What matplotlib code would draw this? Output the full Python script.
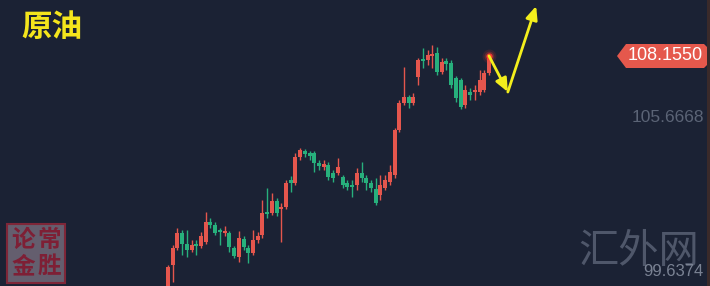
import matplotlib
matplotlib.use("Agg")
import matplotlib.pyplot as plt
from matplotlib.patches import Polygon, Rectangle

# ======================= DADOS =======================

TITLE = "原油"
WATERMARK = "汇外网"
LAST_PRICE = 108.1550
AXIS_LABELS = [105.6668, 99.6374]

opens = [98.79, 99.79, 100.47, 101.07, 100.63, 100.39, 100.63, 100.55, 100.71, 101.51,
         101.39, 101.19, 101.07, 101.07, 100.47, 100.11, 100.83, 100.47, 100.27, 100.79,
         100.99, 101.91, 101.87, 102.35, 102.03, 102.11, 103.19, 103.07, 104.11, 104.35,
         104.27, 104.27, 103.87, 103.71, 103.79, 103.47, 103.47, 103.31, 103.07, 102.99,
         102.99, 103.47, 103.27, 103.07, 102.83, 102.59, 102.87, 103.11, 103.39, 105.19,
         106.27, 106.51, 106.27, 107.31, 108.03, 107.99, 108.15, 108.27, 107.51, 107.95,
         107.87, 107.27, 107.19, 106.19, 106.71, 106.71, 106.71, 106.79, 107.47]
closes = [99.71, 100.47, 101.07, 100.63, 100.39, 100.59, 100.55, 100.95, 101.51, 101.39,
          101.07, 101.11, 101.15, 100.51, 100.15, 100.87, 100.51, 100.27, 100.79, 100.95,
          101.87, 101.83, 102.35, 101.87, 102.11, 103.07, 103.07, 104.11, 104.39, 104.23,
          104.15, 103.87, 103.75, 103.83, 103.31, 103.27, 103.71, 102.99, 102.91, 102.91,
          103.47, 103.27, 103.07, 102.87, 102.27, 102.99, 103.19, 103.51, 105.19, 106.27,
          106.51, 106.27, 106.51, 107.99, 107.95, 108.19, 108.23, 107.51, 107.91, 107.83,
          106.99, 106.47, 106.11, 106.79, 106.59, 106.79, 107.19, 107.47, 108.155]
highs = [99.79, 100.59, 101.27, 101.19, 101.19, 100.79, 100.79, 101.11, 101.91, 101.67,
         101.51, 101.27, 101.35, 101.15, 100.55, 101.15, 100.95, 100.59, 101.19, 101.11,
         102.39, 102.87, 102.67, 102.47, 102.27, 103.19, 103.35, 104.27, 104.47, 104.43,
         104.35, 104.35, 103.99, 103.99, 103.91, 103.59, 104.07, 103.39, 103.19, 103.19,
         103.67, 103.91, 103.39, 103.19, 103.27, 103.39, 103.39, 103.79, 105.27, 106.39,
         107.71, 106.59, 106.67, 108.07, 108.47, 108.39, 108.59, 108.51, 108.07, 108.07,
         107.99, 107.35, 107.27, 106.99, 106.87, 106.99, 107.59, 107.59, 108.19]
lows = [98.59, 99.11, 100.39, 100.19, 100.11, 100.31, 100.19, 100.47, 100.63, 101.27,
        100.99, 100.59, 100.95, 100.31, 100.07, 99.91, 100.39, 99.87, 100.19, 100.67,
        100.87, 101.67, 101.79, 101.75, 100.71, 102.03, 102.71, 102.99, 103.99, 104.11,
        103.99, 103.51, 103.59, 103.59, 103.19, 103.11, 103.39, 102.87, 102.79, 102.51,
        102.79, 103.11, 102.79, 102.71, 102.19, 102.39, 102.79, 102.99, 103.27, 105.11,
        106.19, 106.07, 106.19, 106.99, 107.67, 107.79, 107.67, 107.39, 107.43, 107.59,
        106.87, 106.31, 106.03, 106.07, 106.39, 106.39, 106.59, 106.71, 107.39]

# trajetória projetada (setas amarelas): índice do candle, preço
proj_x = [68, 72, 78]
proj_y = [108.155, 106.71, 110.15]

# ======================= CORES =======================

BG_COLOR = "#1b2234"
UP_COLOR = "#e5564d"
DOWN_COLOR = "#27b07c"
ARROW_COLOR = "#f3ee1c"
TITLE_COLOR = "#f4e51c"

W, H = 710, 286

def fx(x):
    return x / W

def fy(y):
    return 1 - y / H

# ======================= GRÁFICO =======================

fig = plt.figure(figsize=(W / 100, H / 100), dpi=100)
fig.patch.set_facecolor(BG_COLOR)
ax = fig.add_axes([0, 0, 1, 1])
ax.set_facecolor(BG_COLOR)
ax.set_axis_off()

step = 4.72
ax.set_xlim(-168 / step, (W - 168) / step)
ax.set_ylim(110.39 - 0.04 * H, 110.39)

idx = list(range(len(opens)))
colors = [UP_COLOR if c >= o else DOWN_COLOR for o, c in zip(opens, closes)]
ax.vlines(idx, lows, highs, colors=colors, linewidth=1.0, zorder=2)
bottoms = [min(o, c) for o, c in zip(opens, closes)]
heights = [max(abs(c - o), 0.05) for o, c in zip(opens, closes)]
ax.bar(idx, heights, bottom=bottoms, width=0.85, color=colors, linewidth=0, zorder=3)

# ponto brilhante no último preço
for r, a in [(10, 0.12), (7, 0.25), (4.5, 0.9)]:
    ax.plot(idx[-1], closes[-1], "o", ms=r, color="#ff3b30", alpha=a,
            markeredgewidth=0, zorder=5)

# setas amarelas
for i in range(2):
    ax.annotate("", xy=(proj_x[i + 1], proj_y[i + 1]), xytext=(proj_x[i], proj_y[i]),
                arrowprops=dict(arrowstyle="-|>,head_length=0.8,head_width=0.35",
                                color=ARROW_COLOR, lw=2, shrinkA=0, shrinkB=0), zorder=6)

# título
fig.text(fx(21), fy(27), TITLE, color=TITLE_COLOR, fontsize=22, fontweight="bold",
         family=["Noto Sans CJK SC", "DejaVu Sans"], va="center", ha="left")

# etiqueta do último preço
tag = Polygon([(fx(617), fy(56)), (fx(626), fy(44)), (fx(704), fy(44)), (fx(708), fy(48)),
               (fx(708), fy(64)), (fx(704), fy(68)), (fx(626), fy(68))],
              closed=True, transform=fig.transFigure, facecolor="#e5584c", edgecolor="none")
fig.patches.append(tag)
fig.text(fx(665), fy(56), f"{LAST_PRICE:.4f}", color="white", fontsize=13,
         family="Liberation Sans", va="center", ha="center")

# rótulos do eixo
fig.text(fx(704), fy(118), f"{AXIS_LABELS[0]:.4f}", color="#5b6476", fontsize=12.5,
         family="Liberation Sans", va="center", ha="right")

# marca d'água
fig.text(fx(639), fy(251), WATERMARK, color="#4f576a", fontsize=29, fontweight=100,
         family=["Noto Sans CJK SC", "DejaVu Sans"], va="center", ha="center")
fig.text(fx(704), fy(271), f"{AXIS_LABELS[1]:.4f}", color="#7a8293", fontsize=12,
         family="Liberation Sans", va="center", ha="right")

# borda direita
fig.patches.append(Rectangle((fx(707), 0), fx(3), 1, transform=fig.transFigure,
                             facecolor="#3a2a2a", edgecolor="none"))

# selo
seal = Rectangle((fx(7), fy(283)), fx(58), 59 / H, transform=fig.transFigure,
                 facecolor="#645e6e", edgecolor="#7e2638", linewidth=1.5)
fig.patches.append(seal)
for ch, x, y in [("论", 23, 240), ("常", 49, 240), ("金", 23, 266), ("胜", 49, 266)]:
    fig.text(fx(x), fy(y), ch, color="#7e1f35", fontsize=17, fontweight="bold",
             family=["Noto Sans CJK SC", "DejaVu Sans"], va="center", ha="center")

fig.savefig("out.png", dpi=100, facecolor=BG_COLOR)
